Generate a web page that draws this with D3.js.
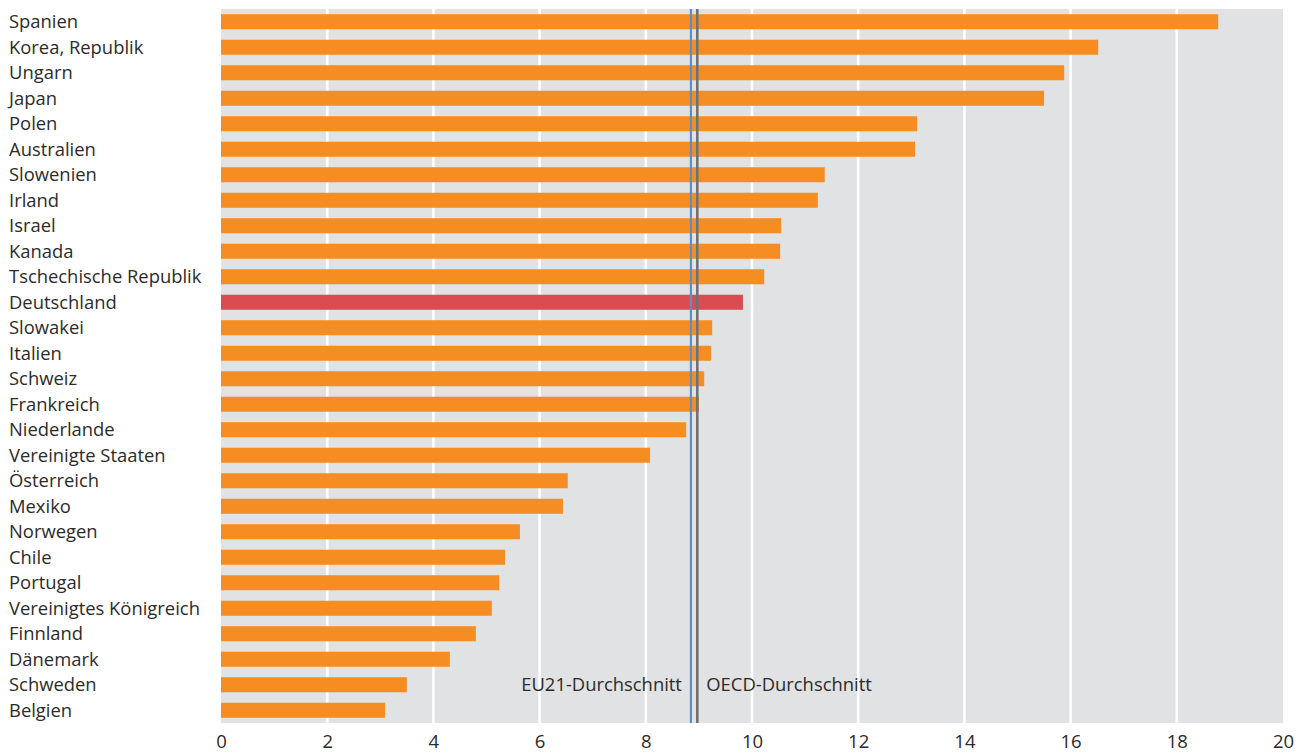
<!DOCTYPE html>
<html lang="de">
<head>
<meta charset="utf-8">
<script src="https://cdn.jsdelivr.net/npm/d3@7"></script>
<style>
  html, body { margin: 0; padding: 0; background: #ffffff; }
  svg { display: block; }
  text { font-family: "Open Sans", "Noto Sans", sans-serif; fill: #2b2b2b; }
</style>
</head>
<body>
<svg id="chart" width="1310" height="753"></svg>
<script>
// Länder, von oben nach unten
const countries = [
  "Spanien", "Korea, Republik", "Ungarn", "Japan", "Polen", "Australien",
  "Slowenien", "Irland", "Israel", "Kanada", "Tschechische Republik",
  "Deutschland", "Slowakei", "Italien", "Schweiz", "Frankreich",
  "Niederlande", "Vereinigte Staaten", "Österreich", "Mexiko", "Norwegen",
  "Chile", "Portugal", "Vereinigtes Königreich", "Finnland", "Dänemark",
  "Schweden", "Belgien"
];

// Werte je Land
const values = [
  18.78, 16.52, 15.88, 15.50, 13.11, 13.07,
  11.37, 11.24, 10.55, 10.53, 10.23,
  9.83, 9.25, 9.23, 9.10, 9.00,
  8.76, 8.08, 6.53, 6.44, 5.63,
  5.35, 5.24, 5.10, 4.80, 4.31,
  3.50, 3.09
];

// Hervorgehobenes Land
const highlight = "Deutschland";

// Durchschnittswerte
const averages = [
  { name: "EU21-Durchschnitt", value: 8.85, side: "left" },
  { name: "OECD-Durchschnitt", value: 8.97, side: "right" }
];

// Achsenbeschriftung
const ticks = [0, 2, 4, 6, 8, 10, 12, 14, 16, 18, 20];

const data = countries.map((c, i) => ({ country: c, value: values[i] }));

const svg = d3.select("#chart");
const plot = { left: 221, right: 1283, top: 9, bottom: 723 };

const x = d3.scaleLinear().domain([0, 20]).range([plot.left, plot.right]);
const y = d3.scaleBand()
  .domain(countries)
  .range([plot.top, plot.bottom])
  .paddingInner(0.41)
  .paddingOuter(0.205);

// Hintergrund der Zeichenfläche
svg.append("rect")
  .attr("x", plot.left).attr("y", plot.top)
  .attr("width", plot.right - plot.left)
  .attr("height", plot.bottom - plot.top)
  .attr("fill", "#e1e2e4");

// Gitterlinien
svg.append("g")
  .selectAll("line")
  .data(ticks.filter(t => t > 0 && t < 20))
  .join("line")
  .attr("x1", d => x(d)).attr("x2", d => x(d))
  .attr("y1", plot.top).attr("y2", plot.bottom)
  .attr("stroke", "#ffffff")
  .attr("stroke-width", 2.6);

// Balken
svg.append("g")
  .selectAll("rect")
  .data(data)
  .join("rect")
  .attr("x", x(0))
  .attr("y", d => y(d.country))
  .attr("width", d => x(d.value) - x(0))
  .attr("height", y.bandwidth())
  .attr("fill", d => d.country === highlight ? "#d94d52" : "#f68d22");

// Länderbeschriftung
svg.append("g")
  .selectAll("text")
  .data(data)
  .join("text")
  .attr("x", 9)
  .attr("y", d => y(d.country) + y.bandwidth() / 2)
  .attr("dy", "0.35em")
  .attr("font-size", 18.4)
  .text(d => d.country);

// Durchschnittslinien
const avgColor = { "EU21-Durchschnitt": "#5b8fcc", "OECD-Durchschnitt": "#717171" };
svg.append("g")
  .selectAll("line")
  .data(averages)
  .join("line")
  .attr("x1", d => x(d.value)).attr("x2", d => x(d.value))
  .attr("y1", plot.top).attr("y2", plot.bottom)
  .attr("stroke", d => avgColor[d.name])
  .attr("stroke-width", d => d.side === "left" ? 2.2 : 2.6);

svg.append("g")
  .selectAll("text")
  .data(averages)
  .join("text")
  .attr("x", d => d.side === "left" ? x(d.value) - 9 : x(d.value) + 9)
  .attr("y", y("Schweden") + y.bandwidth() / 2)
  .attr("dy", "0.35em")
  .attr("text-anchor", d => d.side === "left" ? "end" : "start")
  .attr("font-size", 18.4)
  .text(d => d.name);

// x-Achse
const xAxis = d3.axisBottom(x).tickValues(ticks).tickSize(0).tickPadding(0);
const gx = svg.append("g")
  .attr("transform", `translate(0, ${plot.bottom})`)
  .call(xAxis);
gx.select(".domain").remove();
gx.selectAll("text")
  .attr("y", 25)
  .attr("dy", 0)
  .attr("font-size", 18.5)
  .attr("font-family", "\"Open Sans\", \"Noto Sans\", sans-serif")
  .attr("fill", "#2b2b2b");
</script>
</body>
</html>
